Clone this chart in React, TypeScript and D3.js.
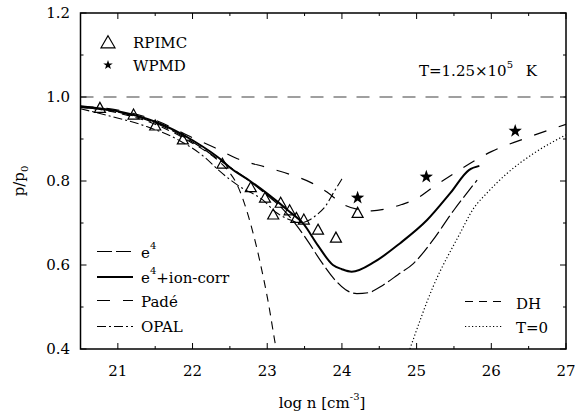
import React from 'react';
import * as d3 from 'd3';

// ---- data ----
const xTickValues = [21, 22, 23, 24, 25, 26, 27];
const xTickLabels = ['21', '22', '23', '24', '25', '26', '27'];
const yTickValues = [0.4, 0.6, 0.8, 1.0, 1.2];
const yTickLabels = ['0.4', '0.6', '0.8', '1.0', '1.2'];

const rpimcLogN = [20.76, 21.21, 21.5, 21.87, 22.4, 22.78, 22.97, 23.08, 23.18, 23.3, 23.39, 23.49, 23.68, 23.92, 24.21];
const rpimcP = [0.973, 0.957, 0.931, 0.898, 0.84, 0.784, 0.759, 0.719, 0.747, 0.729, 0.711, 0.707, 0.683, 0.664, 0.723];

const wpmdLogN = [24.21, 25.13, 26.32];
const wpmdP = [0.76, 0.81, 0.919];

const e4Curve: [number, number][] = [
  [20.5, 0.975], [21.0, 0.964], [21.5, 0.938], [22.0, 0.893], [22.4, 0.845], [22.8, 0.795],
  [23.0, 0.766], [23.2, 0.735], [23.39, 0.695], [23.55, 0.655], [23.7, 0.614], [23.9, 0.566],
  [24.05, 0.541], [24.2, 0.532], [24.35, 0.534], [24.55, 0.552], [24.75, 0.577], [24.96, 0.604],
  [25.2, 0.655], [25.5, 0.731], [25.81, 0.802],
];

const e4IonCurve: [number, number][] = [
  [20.5, 0.978], [21.0, 0.966], [21.5, 0.941], [22.0, 0.897], [22.4, 0.848], [22.5, 0.832],
  [22.77, 0.8], [23.0, 0.77], [23.3, 0.727], [23.48, 0.699], [23.68, 0.646], [23.88, 0.6],
  [24.0, 0.59], [24.13, 0.584], [24.44, 0.608], [24.78, 0.652], [25.14, 0.707], [25.45, 0.771],
  [25.7, 0.826], [25.84, 0.836],
];

const padeCurve: [number, number][] = [
  [20.5, 0.978], [21.0, 0.969], [21.5, 0.945], [22.0, 0.903], [22.3, 0.879], [22.6, 0.853],
  [23.0, 0.832], [23.3, 0.816], [23.6, 0.795], [23.8, 0.774], [24.0, 0.746], [24.2, 0.733],
  [24.4, 0.729], [24.6, 0.734], [24.8, 0.744], [25.0, 0.758], [25.2, 0.783], [25.5, 0.818],
  [25.8, 0.851], [26.0, 0.87], [26.4, 0.898], [26.8, 0.923], [27.0, 0.935],
];

const opalCurve: [number, number][] = [
  [20.5, 0.972], [20.93, 0.953], [21.38, 0.93], [21.83, 0.896], [22.18, 0.854], [22.36, 0.824],
  [22.63, 0.787], [22.94, 0.755], [23.12, 0.725], [23.3, 0.708], [23.44, 0.7], [23.55, 0.706],
  [23.68, 0.722], [23.78, 0.74], [23.88, 0.77], [24.0, 0.805],
];

const dhCurve: [number, number][] = [
  [20.5, 0.976], [21.0, 0.962], [21.5, 0.935], [22.0, 0.89], [22.3, 0.855], [22.45, 0.83],
  [22.6, 0.79], [22.75, 0.715], [22.9, 0.61], [23.02, 0.505], [23.1, 0.42], [23.13, 0.39],
];

const t0Curve: [number, number][] = [
  [24.91, 0.4], [25.22, 0.548], [25.58, 0.675], [25.76, 0.734], [25.94, 0.771],
  [26.21, 0.818], [26.57, 0.866], [27.0, 0.91],
];

const idealLine: [number, number][] = [[20.5, 1.0], [27.0, 1.0]];

// ---- layout ----
const W = 575;
const H = 417;
const L = 80.5;
const R = 566;
const T = 13;
const B = 349;
const FONT = '"DejaVu Serif", "Liberation Serif", serif';
const FS = 15;

const x = d3.scaleLinear().domain([20.5, 27]).range([L, R]);
const y = d3.scaleLinear().domain([0.4, 1.2]).range([B, T]);

const line = d3
  .line<[number, number]>()
  .x((d) => x(d[0]))
  .y((d) => y(d[1]))
  .curve(d3.curveMonotoneX);

function starPath(r: number): string {
  const pts: string[] = [];
  const ri = r * 0.4;
  for (let i = 0; i < 10; i++) {
    const a = -Math.PI / 2 + (i * Math.PI) / 5;
    const rr = i % 2 === 0 ? r : ri;
    pts.push(`${(rr * Math.cos(a)).toFixed(2)},${(rr * Math.sin(a)).toFixed(2)}`);
  }
  return 'M' + pts.join('L') + 'Z';
}

function triPath(w: number, h: number): string {
  return `M0,${-h * 0.6}L${w / 2},${h * 0.4}L${-w / 2},${h * 0.4}Z`;
}

const xMinor = d3.range(20.5, 27.01, 0.5).filter((v) => Math.abs(v - Math.round(v)) > 0.01);
const yMinor = [0.5, 0.7, 0.9, 1.1];

const txt: React.CSSProperties = { fontFamily: FONT, fontSize: FS };

export default function App() {
  const tri = triPath(11, 10);
  const star = starPath(7);
  const starSmall = starPath(5);
  return (
    <svg
      width={W}
      height={H}
      style={{ position: 'absolute', left: 0, top: 0, background: '#fff', fontFamily: FONT }}
    >
      <defs>
        <clipPath id="plotclip">
          <rect x={L} y={T} width={R - L} height={B - T} />
        </clipPath>
      </defs>

      {/* curves */}
      <g clipPath="url(#plotclip)" fill="none">
        <path d={line(idealLine) || ''} stroke="#808080" strokeWidth={1.3} strokeDasharray="13,10" />
        <path d={line(dhCurve) || ''} stroke="#000" strokeWidth={1.1} strokeDasharray="8,6" />
        <path d={line(t0Curve) || ''} stroke="#000" strokeWidth={1.2} strokeDasharray="1.2,2.3" />
        <path d={line(opalCurve) || ''} stroke="#000" strokeWidth={1.1} strokeDasharray="9,3,2,3" />
        <path d={line(padeCurve) || ''} stroke="#000" strokeWidth={1.2} strokeDasharray="13,13" />
        <path d={line(e4Curve) || ''} stroke="#000" strokeWidth={1.2} strokeDasharray="15,4" />
        <path d={line(e4IonCurve) || ''} stroke="#000" strokeWidth={2} />
      </g>

      {/* RPIMC triangles */}
      {rpimcLogN.map((v, i) => (
        <path
          key={'t' + i}
          d={tri}
          transform={`translate(${x(v)},${y(rpimcP[i])})`}
          fill="none"
          stroke="#000"
          strokeWidth={1.2}
        />
      ))}
      {/* WPMD stars */}
      {wpmdLogN.map((v, i) => (
        <path key={'s' + i} d={star} transform={`translate(${x(v)},${y(wpmdP[i])})`} fill="#000" />
      ))}

      {/* frame */}
      <rect x={L} y={T} width={R - L} height={B - T} fill="none" stroke="#000" strokeWidth={1.5} />

      {/* ticks */}
      <g stroke="#000" strokeWidth={1}>
        {xTickValues.map((v) => (
          <g key={'xt' + v}>
            <line x1={x(v)} x2={x(v)} y1={B} y2={B - 6} />
            <line x1={x(v)} x2={x(v)} y1={T} y2={T + 6} />
          </g>
        ))}
        {xMinor.map((v) => (
          <g key={'xm' + v}>
            <line x1={x(v)} x2={x(v)} y1={B} y2={B - 3} />
            <line x1={x(v)} x2={x(v)} y1={T} y2={T + 3} />
          </g>
        ))}
        {yTickValues.map((v) => (
          <g key={'yt' + v}>
            <line x1={L} x2={L + 6} y1={y(v)} y2={y(v)} />
            <line x1={R} x2={R - 6} y1={y(v)} y2={y(v)} />
          </g>
        ))}
        {yMinor.map((v) => (
          <g key={'ym' + v}>
            <line x1={L} x2={L + 3} y1={y(v)} y2={y(v)} />
            <line x1={R} x2={R - 3} y1={y(v)} y2={y(v)} />
          </g>
        ))}
      </g>

      {/* tick labels */}
      <g fill="#000">
        {xTickValues.map((v, i) => (
          <text key={'xl' + v} x={x(v)} y={376} textAnchor="middle" style={txt}>
            {xTickLabels[i]}
          </text>
        ))}
        {yTickValues.map((v, i) => (
          <text key={'yl' + v} x={70} y={y(v)} dy="0.35em" textAnchor="end" style={txt}>
            {yTickLabels[i]}
          </text>
        ))}
      </g>

      {/* axis titles */}
      <text x={322} y={408} textAnchor="middle" style={txt}>
        log n [cm
        <tspan fontSize={10} dy={-8}>-3</tspan>
        <tspan dy={8}>]</tspan>
      </text>
      <text transform="translate(24,181) rotate(-90)" textAnchor="middle" style={txt}>
        p/p<tspan fontSize={10} dy={4}>0</tspan>
      </text>

      {/* top-left legend */}
      <path d={triPath(14, 12)} transform="translate(108,43)" fill="none" stroke="#000" strokeWidth={1.2} />
      <text x={133} y={48} style={txt}>RPIMC</text>
      <path d={starSmall} transform="translate(108,65)" fill="#000" />
      <text x={133} y={71} style={txt}>WPMD</text>

      {/* temperature */}
      <text x={419} y={76} style={txt}>
        T=1.25×10<tspan fontSize={10} dy={-8}>5</tspan>
        <tspan dy={8} dx={8}> K</tspan>
      </text>

      {/* legends lines */}
      <g fill="none" stroke="#000">
        <line x1={97} x2={133} y1={251.5} y2={251.5} strokeWidth={1.2} strokeDasharray="15,4" />
        <line x1={97} x2={133} y1={277} y2={277} strokeWidth={2} />
        <line x1={97} x2={133} y1={300.5} y2={300.5} strokeWidth={1.2} strokeDasharray="13,13" />
        <line x1={97} x2={133} y1={326.5} y2={326.5} strokeWidth={1.1} strokeDasharray="9,3,2,3" />
        <line x1={465} x2={503} y1={301.5} y2={301.5} strokeWidth={1.1} strokeDasharray="8,6" />
        <line x1={465} x2={503} y1={326.5} y2={326.5} strokeWidth={1.2} strokeDasharray="1.2,2.3" />
      </g>
      <g fill="#000">
        <text x={141} y={258} style={txt}>
          e<tspan fontSize={10} dy={-9}>4</tspan>
        </text>
        <text x={141} y={283} style={txt}>
          e<tspan fontSize={10} dy={-9}>4</tspan>
          <tspan dy={9}>+ion-corr</tspan>
        </text>
        <text x={141} y={307} style={txt}>Padé</text>
        <text x={141} y={332} style={txt}>OPAL</text>
        <text x={516} y={309} style={txt}>DH</text>
        <text x={516} y={333} style={txt}>T=0</text>
      </g>
    </svg>
  );
}
